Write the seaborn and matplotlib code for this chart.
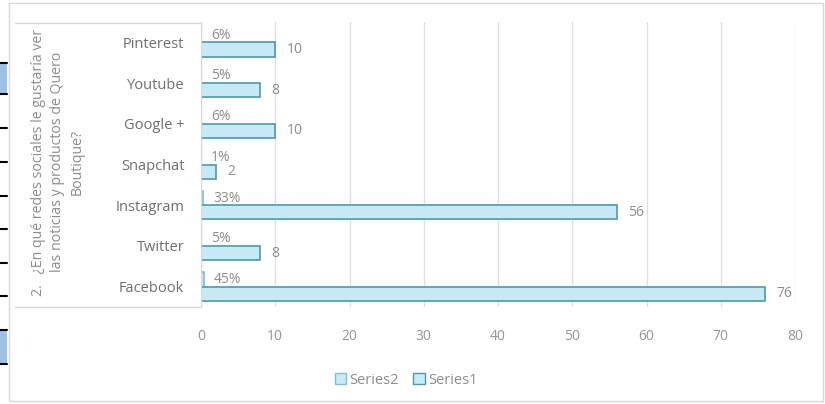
import matplotlib
matplotlib.use("Agg")
import matplotlib.pyplot as plt
from matplotlib.patches import Rectangle, Patch
from matplotlib.lines import Line2D
import seaborn as sns
import pandas as pd

categories = ["Pinterest", "Youtube", "Google +", "Snapchat", "Instagram", "Twitter", "Facebook"]
series1 = [10, 8, 10, 2, 56, 8, 76]
series2 = [0.06, 0.05, 0.06, 0.01, 0.33, 0.05, 0.45]
x_ticks = [0, 10, 20, 30, 40, 50, 60, 70, 80]
title_text = "2.   ¿En qué redes sociales le gustaría ver\nlas noticias y productos de Quero\nBoutique?"

df = pd.DataFrame({
    "cat": categories * 2,
    "series": ["Series2"] * len(categories) + ["Series1"] * len(categories),
    "value": series2 + series1,
})

sns.set_style("white")
plt.rcParams["font.family"] = ["Open Sans", "DejaVu Sans"]

W, H = 825, 404
fig = plt.figure(figsize=(W / 100, H / 100), dpi=100)
ax = fig.add_axes([201 / W, 1 - 307 / H, (795 - 201) / W, (307 - 22) / H])

fill = "#c8eaf6"
pal = {"Series2": fill, "Series1": fill}
sns.barplot(data=df, y="cat", x="value", hue="series", hue_order=["Series2", "Series1"],
            order=categories, orient="h", palette=pal, width=0.7, gap=0,
            ax=ax, legend=False, saturation=1)

edges = {"Series2": "#7fbfd2", "Series1": "#4d98ad"}
for cont, name in zip(ax.containers, ["Series2", "Series1"]):
    for p in cont:
        p.set_edgecolor(edges[name])
        p.set_linewidth(1.2)

lab_col = "#8c8c8c"
ax.bar_label(ax.containers[0], labels=[f"{v*100:.0f}%" for v in series2],
             padding=7, color=lab_col, fontsize=10)
ax.bar_label(ax.containers[1], labels=[f"{v}" for v in series1],
             padding=8, color=lab_col, fontsize=10)

ax.set_xlim(0, 80)
ax.set_xticks(x_ticks)
ax.set_ylim(6.5, -0.5)
ax.xaxis.grid(True, color="#e0e0e0", linewidth=1)
ax.set_axisbelow(True)
ax.set_xlabel("")
ax.set_ylabel("")
for s in ["top", "right", "bottom"]:
    ax.spines[s].set_visible(False)
ax.spines["left"].set_color("#d9d9d9")
ax.tick_params(axis="x", length=0, pad=16, labelsize=10, labelcolor="#969696")
ax.tick_params(axis="y", length=0, pad=12, labelsize=10.5, labelcolor="#6e6e6e")

# category label box lines
for yy in (23, 307):
    fig.add_artist(Line2D([15 / W, 201 / W], [1 - yy / H, 1 - yy / H],
                          color="#d9d9d9", linewidth=1, transform=fig.transFigure))

fig.text(58 / W, 1 - 162 / H, title_text, rotation=90, ha="center", va="center",
         multialignment="center", fontsize=10.2, color="#8c8c8c", linespacing=1.42)

# outer chart border
fig.add_artist(Rectangle((9 / W, 1 - 401 / H), (823 - 9) / W, (401 - 3) / H,
                         transform=fig.transFigure, fill=False, edgecolor="#d9d9d9", linewidth=1))

# left-edge artifacts
for y0, y1 in ((63, 94), (330, 364)):
    fig.add_artist(Rectangle((0, 1 - y1 / H), 7 / W, (y1 - y0) / H, transform=fig.transFigure,
                             facecolor="#9cc2e6", edgecolor="none"))
    for yy in (y0, y1):
        fig.add_artist(Line2D([0, 7 / W], [1 - yy / H, 1 - yy / H], color="black",
                              linewidth=1.5, transform=fig.transFigure))
for yy in (128, 162, 196, 229, 263, 296):
    fig.add_artist(Line2D([0, 7 / W], [1 - yy / H, 1 - yy / H], color="black",
                          linewidth=1.5, transform=fig.transFigure))

handles = [Patch(facecolor=fill, edgecolor=edges["Series2"], label="Series2"),
           Patch(facecolor=fill, edgecolor=edges["Series1"], label="Series1")]
fig.legend(handles=handles, loc="center", bbox_to_anchor=(406 / W, 1 - 380 / H), ncol=2,
           frameon=False, fontsize=10.5, handlelength=0.8, handleheight=0.8, handletextpad=0.2,
           columnspacing=1.0, labelcolor="#8c8c8c")

fig.savefig("out.png", dpi=100)
